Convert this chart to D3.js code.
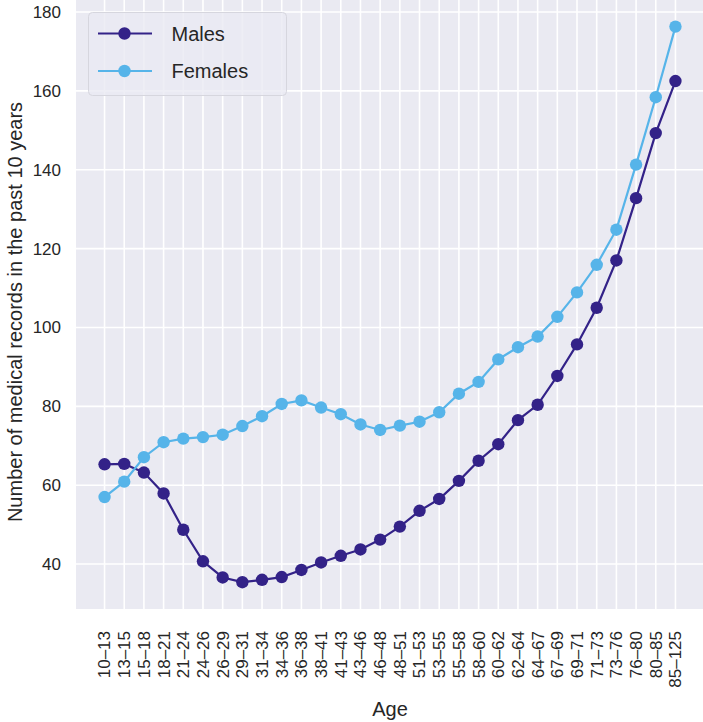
<!DOCTYPE html>
<html><head><meta charset="utf-8">
<script src="https://cdn.jsdelivr.net/npm/d3@7"></script>
<style>body{margin:0;background:#fff}svg{display:block}text{font-family:"Liberation Sans",Arial,sans-serif;fill:#262626}</style>
</head><body><svg id="c" width="703" height="722"></svg>
<script>
const categories = ["10–13","13–15","15–18","18–21","21–24","24–26","26–29","29–31","31–34","34–36","36–38","38–41","41–43","43–46","46–48","48–51","51–53","53–55","55–58","58–60","60–62","62–64","64–67","67–69","69–71","71–73","73–76","76–80","80–85","85–125"];
const males = [65.3,65.4,63.2,57.9,48.7,40.7,36.6,35.4,36.0,36.7,38.5,40.4,42.1,43.7,46.2,49.5,53.5,56.5,61.1,66.2,70.4,76.5,80.4,87.7,95.7,105.0,117.0,132.8,149.3,162.5];
const females = [57.0,60.9,67.1,70.9,71.8,72.2,72.8,75.0,77.5,80.6,81.5,79.7,78.0,75.4,74.0,75.1,76.1,78.5,83.2,86.2,91.9,95.0,97.7,102.7,108.9,115.9,124.8,141.3,158.4,176.3];
const yTicks = [40,60,80,100,120,140,160,180];
const seriesNames = ["Males","Females"];
const colors = ["#332288","#56B4E9"];

const svg = d3.select("#c");
const L = 76, R = 704, T = 0, B = 609;
const x = d3.scaleLinear().domain([-1.45, categories.length - 1 + 1.45]).range([L, R]);
const y = d3.scaleLinear().domain([28.6, 183.05]).range([B, T]);

svg.append("rect").attr("x", L).attr("y", T).attr("width", R - L).attr("height", B - T).attr("fill", "#EAEAF2");

const g = svg.append("g");
g.selectAll(".vg").data(categories).join("line")
  .attr("x1", (d,i)=>x(i)).attr("x2", (d,i)=>x(i)).attr("y1", T).attr("y2", B)
  .attr("stroke", "#fff").attr("stroke-width", 1.6);
g.selectAll(".hg").data(yTicks).join("line")
  .attr("x1", L).attr("x2", R).attr("y1", d=>y(d)).attr("y2", d=>y(d))
  .attr("stroke", "#fff").attr("stroke-width", 1.6);

// y tick labels
svg.selectAll(".yt").data(yTicks).join("text")
  .attr("x", L - 15).attr("y", d=>y(d)).attr("dy", "0.35em")
  .attr("text-anchor", "end").attr("font-size", 17).text(d=>d);

// x tick labels rotated
svg.selectAll(".xt").data(categories).join("text")
  .attr("transform", (d,i)=>`translate(${x(i)},${B + 22}) rotate(-90)`)
  .attr("dy", "0.35em").attr("text-anchor", "end").attr("font-size", 17).text(d=>d);

svg.append("text").attr("x", 390).attr("y", 716).attr("text-anchor", "middle")
  .attr("font-size", 20).text("Age");
svg.append("text").attr("transform", `translate(15,312) rotate(-90)`)
  .attr("dy", "0.35em").attr("text-anchor", "middle").attr("font-size", 20)
  .text("Number of medical records in the past 10 years");

const data = [males, females];
const line = d3.line().x((d,i)=>x(i)).y(d=>y(d));
data.forEach((s, k) => {
  svg.append("path").datum(s).attr("d", line).attr("fill", "none")
    .attr("stroke", colors[k]).attr("stroke-width", 2.2);
  svg.selectAll(".p" + k).data(s).join("circle")
    .attr("cx", (d,i)=>x(i)).attr("cy", d=>y(d)).attr("r", 6.2).attr("fill", colors[k]);
});

// legend
const lg = svg.append("g");
lg.append("rect").attr("x", 88.5).attr("y", 12.5).attr("width", 198).attr("height", 83).attr("rx", 4)
  .attr("fill", "#EAEAF2").attr("fill-opacity", 0.8).attr("stroke", "#d6d6de").attr("stroke-width", 1);
seriesNames.forEach((n, k) => {
  const yy = 33.5 + k * 37.5;
  lg.append("line").attr("x1", 98).attr("x2", 152).attr("y1", yy).attr("y2", yy)
    .attr("stroke", colors[k]).attr("stroke-width", 2.2);
  lg.append("circle").attr("cx", 124.5).attr("cy", yy).attr("r", 6.2).attr("fill", colors[k]);
  lg.append("text").attr("x", 171.5).attr("y", yy).attr("dy", "0.35em").attr("font-size", 20).text(n);
});
</script></body></html>
